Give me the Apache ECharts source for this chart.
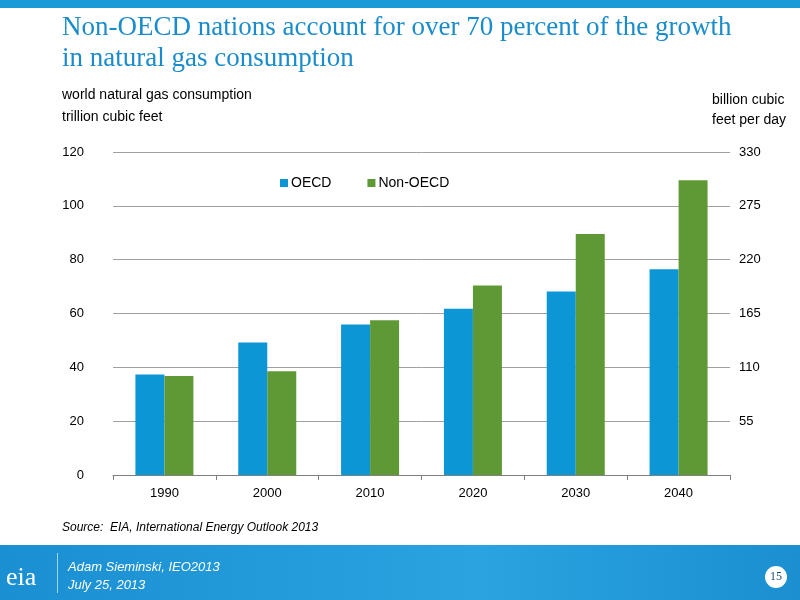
<!DOCTYPE html>
<html lang="en">
<head>
<meta charset="utf-8">
<title>Natural gas consumption</title>
<script src="https://cdn.jsdelivr.net/npm/echarts@6/dist/echarts.min.js"></script>
<style>
  html, body { margin: 0; padding: 0; background: #fff; }
  #main { width: 800px; height: 600px; }
</style>
</head>
<body>
<div id="main"></div>
<script type="text/javascript">
    // data
    let years = ['1990', '2000', '2010', '2020', '2030', '2040'];
    let oecd = [37.3, 49.2, 55.9, 61.8, 68.2, 76.4];
    let nonOecd = [36.8, 38.5, 57.5, 70.4, 89.5, 109.5];

    let chart = echarts.init(document.getElementById('main'));

    let option = {
        animation: false,
        backgroundColor: '#fff',
        textStyle: { fontFamily: 'Liberation Sans, Arial, sans-serif' },
        legend: {
            data: ['OECD', 'Non-OECD'],
            top: 171,
            left: 275,
            itemWidth: 8,
            itemHeight: 8,
            itemGap: 36,
            icon: 'rect',
            textStyle: { fontSize: 14, color: '#000', padding: [0, 0, 0, -2] }
        },
        grid: { left: 113, right: 70, top: 152, bottom: 125 },
        xAxis: {
            type: 'category',
            data: years,
            axisLine: { lineStyle: { color: '#808080' } },
            axisTick: { show: true, lineStyle: { color: '#808080' } },
            axisLabel: { fontSize: 13, color: '#000', margin: 12 }
        },
        yAxis: [
            {
                type: 'value', min: 0, max: 120, interval: 20,
                axisLine: { show: false }, axisTick: { show: false },
                axisLabel: { fontSize: 13, color: '#000', margin: 29 },
                splitLine: { lineStyle: { color: '#a0a0a0' } }
            },
            {
                type: 'value', min: 0, max: 330, interval: 55,
                axisLine: { show: false }, axisTick: { show: false },
                axisLabel: { fontSize: 13, color: '#000', margin: 9,
                    formatter: v => v === 0 ? '' : v },
                splitLine: { show: false }
            }
        ],
        series: [
            { name: 'OECD', type: 'bar', data: oecd, barWidth: 29, barGap: '0%',
              itemStyle: { color: '#0d96d6' } },
            { name: 'Non-OECD', type: 'bar', data: nonOecd, barWidth: 29,
              itemStyle: { color: '#5f9935' } }
        ],
        graphic: [
            { type: 'rect', shape: { x: 0, y: 0, width: 800, height: 8 }, style: { fill: '#1a9ad6' } },
            { type: 'text', left: 62, top: 12, style: { text: 'Non-OECD nations account for over 70 percent of the growth\nin natural gas consumption',
                font: '27px "Liberation Serif", serif', fill: '#1a8ccc', lineHeight: 31 } },
            { type: 'text', left: 62, top: 84, style: { text: 'world natural gas consumption\ntrillion cubic feet',
                font: '14px "Liberation Sans", sans-serif', fill: '#000', lineHeight: 22 } },
            { type: 'text', right: 14, top: 90, style: { text: 'billion cubic\nfeet per day', align: 'right',
                font: '14px "Liberation Sans", sans-serif', fill: '#000', lineHeight: 20 } },
            { type: 'text', left: 62, top: 522, style: { text: 'Source:  EIA, International Energy Outlook 2013',
                font: 'italic 12px "Liberation Sans", sans-serif', fill: '#000' } },
            { type: 'rect', shape: { x: 0, y: 545, width: 800, height: 55 },
              style: { fill: { type: 'linear', x: 0, y: 0, x2: 1, y2: 0,
                colorStops: [{ offset: 0, color: '#1a8fd2' }, { offset: 0.6, color: '#2aa3e0' }, { offset: 1, color: '#1b8fd0' }] } } },
            { type: 'text', left: 6, top: 565, style: { text: 'eia', font: '26px "Liberation Serif", serif', fill: '#fff' } },
            { type: 'rect', shape: { x: 57, y: 553, width: 1, height: 40 }, style: { fill: 'rgba(255,255,255,0.6)' } },
            { type: 'text', left: 68, top: 558, style: { text: 'Adam Sieminski, IEO2013\nJuly 25, 2013',
                font: 'italic 13px "Liberation Sans", sans-serif', fill: '#fff', lineHeight: 18 } },
            { type: 'circle', shape: { cx: 776, cy: 577, r: 11 }, style: { fill: '#fff' } },
            { type: 'text', x: 776, y: 577, style: { text: '15', align: 'center', verticalAlign: 'middle',
                font: '12px "Liberation Serif", serif', fill: '#1a4f7a' } }
        ]
    };

    chart.setOption(option);
</script>
</body>
</html>
